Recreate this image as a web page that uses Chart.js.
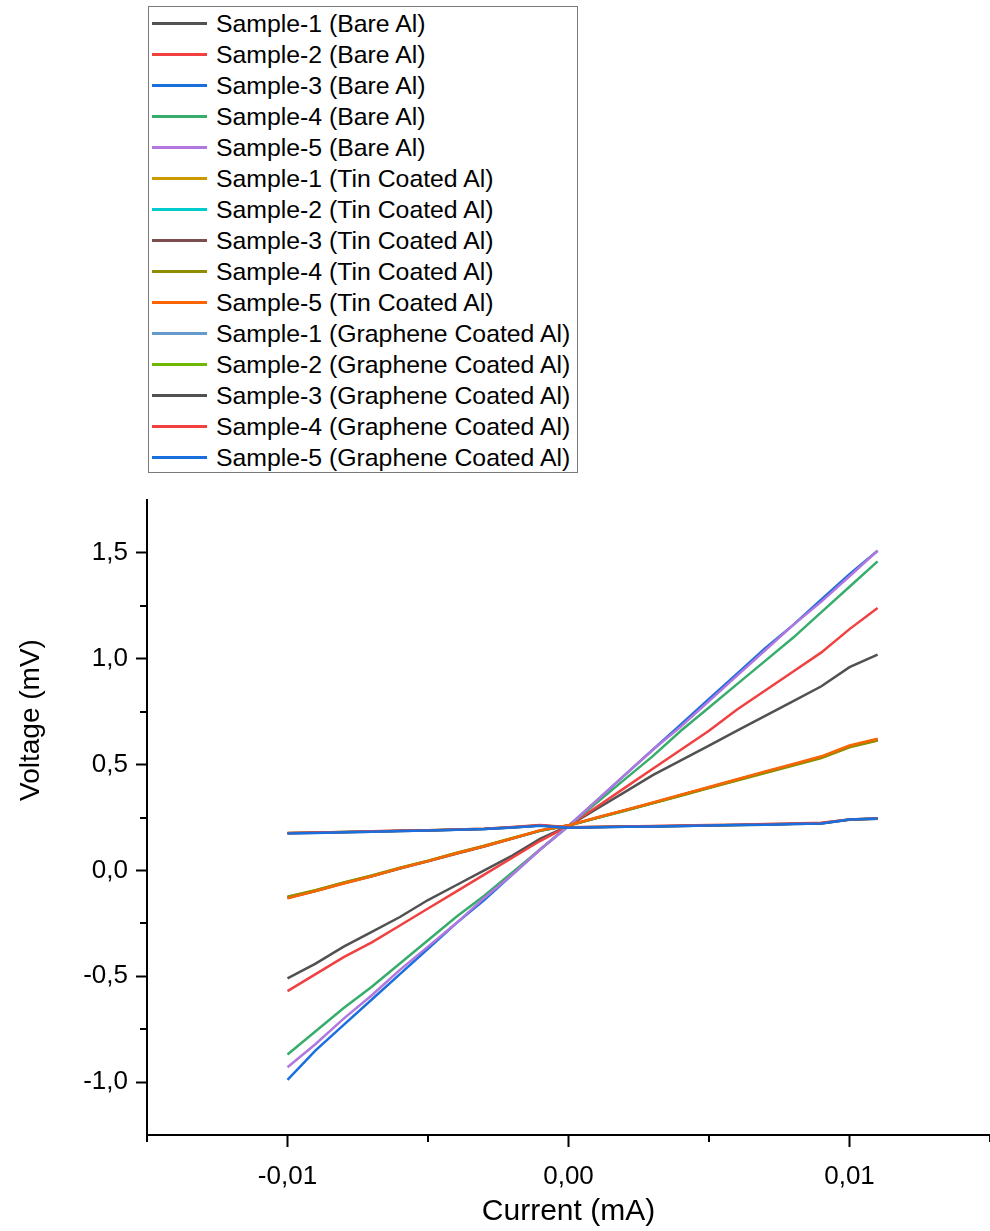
<!DOCTYPE html>
<html>
<head>
<meta charset="utf-8">
<script src="https://cdn.jsdelivr.net/npm/chart.js@4.4.0/dist/chart.umd.min.js"></script>
<style>
  body { margin: 0; background: #fff; }
  #wrap { position: relative; width: 990px; height: 1231px; }
  #legend {
    position: absolute; left: 148px; top: 6px; width: 430px; height: 467px;
    box-sizing: border-box; border: 1px solid #7a7a7a; background: #fff;
    font-family: 'Liberation Sans', Arial, sans-serif; font-size: 24.8px; color: #000;
    padding-top: 1px;
  }
  .row { display: flex; align-items: center; height: 31px; white-space: nowrap; }
  .swatch { display: inline-block; width: 55px; height: 3px; margin-left: 3px; }
  .label { margin-left: 9px; }
</style>
</head>
<body>
<div id="wrap">
  <canvas id="ivChart"></canvas>
  <div id="legend"></div>
</div>
<script>
// current (mA)
const current = [-0.010, -0.009, -0.008, -0.007, -0.006, -0.005, -0.004, -0.003, -0.002, -0.001, 0.000,
                 0.001, 0.002, 0.003, 0.004, 0.005, 0.006, 0.007, 0.008, 0.009, 0.010, 0.011];

// voltage (mV) - bare Al
const bare1 = [-0.51, -0.44, -0.36, -0.29, -0.22, -0.14, -0.07, 0.00, 0.07, 0.15, 0.21, 0.29, 0.37, 0.45, 0.52, 0.59, 0.66, 0.73, 0.80, 0.87, 0.96, 1.02];
const bare2 = [-0.57, -0.49, -0.41, -0.34, -0.26, -0.18, -0.10, -0.02, 0.06, 0.14, 0.21, 0.30, 0.39, 0.48, 0.57, 0.66, 0.76, 0.85, 0.94, 1.03, 1.14, 1.24];
const bare3 = [-0.99, -0.85, -0.73, -0.61, -0.49, -0.37, -0.25, -0.14, -0.02, 0.10, 0.21, 0.33, 0.45, 0.57, 0.69, 0.81, 0.93, 1.05, 1.16, 1.28, 1.40, 1.51];
const bare4 = [-0.87, -0.76, -0.65, -0.55, -0.44, -0.33, -0.22, -0.12, -0.01, 0.10, 0.21, 0.32, 0.43, 0.54, 0.66, 0.77, 0.88, 0.99, 1.10, 1.22, 1.34, 1.46];
const bare5 = [-0.93, -0.82, -0.70, -0.59, -0.47, -0.36, -0.25, -0.13, -0.02, 0.10, 0.21, 0.33, 0.45, 0.57, 0.68, 0.80, 0.92, 1.04, 1.16, 1.27, 1.39, 1.51];

// tin coated Al
const tin1 = [-0.125, -0.094, -0.058, -0.025, 0.012, 0.045, 0.082, 0.116, 0.152, 0.188, 0.212, 0.248, 0.283, 0.318, 0.355, 0.391, 0.428, 0.463, 0.498, 0.534, 0.584, 0.616];
const tin2 = [-0.128, -0.096, -0.060, -0.027, 0.010, 0.044, 0.080, 0.114, 0.150, 0.187, 0.211, 0.247, 0.282, 0.318, 0.355, 0.392, 0.429, 0.465, 0.500, 0.536, 0.587, 0.619];
const tin3 = [-0.130, -0.098, -0.061, -0.028, 0.009, 0.043, 0.079, 0.113, 0.150, 0.188, 0.213, 0.249, 0.284, 0.319, 0.356, 0.392, 0.428, 0.464, 0.499, 0.533, 0.585, 0.616];
const tin4 = [-0.124, -0.093, -0.057, -0.024, 0.013, 0.046, 0.083, 0.117, 0.153, 0.189, 0.212, 0.247, 0.282, 0.317, 0.353, 0.389, 0.425, 0.460, 0.495, 0.531, 0.582, 0.614];
const tin5 = [-0.132, -0.098, -0.062, -0.028, 0.010, 0.044, 0.080, 0.114, 0.151, 0.190, 0.213, 0.250, 0.285, 0.321, 0.358, 0.394, 0.431, 0.468, 0.503, 0.539, 0.590, 0.622];

// graphene coated Al
const gr1 = [0.176, 0.178, 0.181, 0.184, 0.186, 0.189, 0.192, 0.196, 0.203, 0.212, 0.203, 0.205, 0.207, 0.208, 0.210, 0.212, 0.214, 0.217, 0.220, 0.223, 0.240, 0.244];
const gr2 = [0.177, 0.179, 0.181, 0.184, 0.187, 0.190, 0.193, 0.197, 0.204, 0.213, 0.203, 0.205, 0.207, 0.209, 0.211, 0.213, 0.215, 0.218, 0.221, 0.224, 0.241, 0.245];
const gr3 = [0.176, 0.178, 0.180, 0.183, 0.186, 0.189, 0.192, 0.196, 0.203, 0.212, 0.202, 0.204, 0.206, 0.208, 0.210, 0.212, 0.214, 0.216, 0.219, 0.222, 0.239, 0.244];
const gr4 = [0.177, 0.179, 0.182, 0.185, 0.188, 0.190, 0.193, 0.197, 0.205, 0.215, 0.204, 0.206, 0.208, 0.210, 0.212, 0.214, 0.216, 0.219, 0.222, 0.225, 0.241, 0.246];
const gr5 = [0.175, 0.177, 0.180, 0.183, 0.186, 0.189, 0.192, 0.196, 0.203, 0.211, 0.202, 0.204, 0.206, 0.208, 0.210, 0.212, 0.214, 0.216, 0.219, 0.222, 0.240, 0.245];

const seriesNames = [
    'Sample-1 (Bare Al)', 'Sample-2 (Bare Al)', 'Sample-3 (Bare Al)', 'Sample-4 (Bare Al)', 'Sample-5 (Bare Al)',
    'Sample-1 (Tin Coated Al)', 'Sample-2 (Tin Coated Al)', 'Sample-3 (Tin Coated Al)', 'Sample-4 (Tin Coated Al)', 'Sample-5 (Tin Coated Al)',
    'Sample-1 (Graphene Coated Al)', 'Sample-2 (Graphene Coated Al)', 'Sample-3 (Graphene Coated Al)', 'Sample-4 (Graphene Coated Al)', 'Sample-5 (Graphene Coated Al)'
];
const seriesValues = [bare1, bare2, bare3, bare4, bare5, tin1, tin2, tin3, tin4, tin5, gr1, gr2, gr3, gr4, gr5];
const seriesColors = ['#515151', '#F14040', '#1A6FDF', '#37AD6B', '#B177DE',
                      '#CC9900', '#00CBCC', '#7D4E4E', '#8E8E00', '#FB6501',
                      '#6699CC', '#6FB802', '#515151', '#F14040', '#1A6FDF'];

// axis ticks
const xMajor = [-0.01, 0.00, 0.01];
const xMinor = [-0.015, -0.005, 0.005, 0.015];
const yMajor = [-1.0, -0.5, 0.0, 0.5, 1.0, 1.5];
const yMinor = [-0.75, -0.25, 0.25, 0.75, 1.25];

const FONT = "'Liberation Sans', Arial, sans-serif";

function comma(v, d) {
    if (Math.abs(v) < 1e-9) v = 0;
    return v.toFixed(d).replace('.', ',');
}

// short ticks between the labelled ones
const minorTicks = {
    id: 'minorTicks',
    afterDraw(chart) {
        const ctx = chart.ctx;
        const xs = chart.scales.x, ys = chart.scales.y;
        const area = chart.chartArea;
        ctx.save();
        ctx.strokeStyle = '#000';
        ctx.lineWidth = 2;
        ctx.beginPath();
        xMinor.forEach(v => {
            const px = Math.round(xs.getPixelForValue(v));
            ctx.moveTo(px, area.bottom);
            ctx.lineTo(px, area.bottom + 7);
        });
        yMinor.forEach(v => {
            const py = Math.round(ys.getPixelForValue(v));
            ctx.moveTo(area.left, py);
            ctx.lineTo(area.left - 7, py);
        });
        ctx.stroke();
        ctx.restore();
    }
};

// y axis title sits higher than the axis centre in the original
const yTitle = {
    id: 'yTitle',
    afterDraw(chart) {
        const ctx = chart.ctx;
        ctx.save();
        ctx.translate(31, 720);
        ctx.rotate(-Math.PI / 2);
        ctx.font = '28px ' + FONT;
        ctx.fillStyle = '#000';
        ctx.textAlign = 'center';
        ctx.textBaseline = 'middle';
        ctx.fillText('Voltage (mV)', 0, 0);
        ctx.restore();
    }
};

const datasets = seriesValues.map((vals, i) => ({
    label: seriesNames[i],
    data: current.map((c, j) => ({ x: c, y: vals[j] })),
    borderColor: seriesColors[i],
    backgroundColor: seriesColors[i],
    borderWidth: 2.5,
    pointRadius: 0,
    tension: 0,
    fill: false,
    order: -i
}));

const ctx = document.getElementById('ivChart').getContext('2d');
const ivChart = new Chart(ctx, {
    type: 'line',
    data: { datasets: datasets },
    options: {
        responsive: true,
        maintainAspectRatio: false,
        animation: false,
        layout: { padding: { top: 500, right: 0, left: 0, bottom: 0 } },
        plugins: {
            legend: { display: false },
            tooltip: { enabled: false }
        },
        scales: {
            x: {
                type: 'linear',
                min: -0.015,
                max: 0.015,
                afterFit: function(scale) { scale.height = 96; },
                afterBuildTicks: function(scale) { scale.ticks = xMajor.map(v => ({ value: v })); },
                grid: { drawOnChartArea: false, drawTicks: true, tickLength: 12, tickWidth: 2, tickColor: '#000' },
                border: { display: true, color: '#000', width: 2 },
                ticks: {
                    color: '#000',
                    padding: 14,
                    maxRotation: 0,
                    font: { family: FONT, size: 26 },
                    callback: function(v) { return comma(v, 2); }
                },
                title: {
                    display: true,
                    text: 'Current (mA)',
                    color: '#000',
                    font: { family: FONT, size: 30 },
                    padding: { top: 0, bottom: 1 }
                }
            },
            y: {
                type: 'linear',
                min: -1.25,
                max: 1.75,
                afterFit: function(scale) { scale.width = 147; },
                afterBuildTicks: function(scale) { scale.ticks = yMajor.map(v => ({ value: v })); },
                ticks: {
                    color: '#000',
                    padding: 8,
                    font: { family: FONT, size: 26 },
                    callback: function(v) { return comma(v, 1); }
                },
                grid: { drawOnChartArea: false, drawTicks: true, tickLength: 11, tickWidth: 2, tickColor: '#000' },
                border: { display: true, color: '#000', width: 2 },
                title: { display: false }
            }
        }
    },
    plugins: [minorTicks, yTitle]
});

// legend box built from the chart's own datasets
const legendBox = document.getElementById('legend');
ivChart.data.datasets.forEach(ds => {
    const row = document.createElement('div');
    row.className = 'row';
    const sw = document.createElement('span');
    sw.className = 'swatch';
    sw.style.background = ds.borderColor;
    const lb = document.createElement('span');
    lb.className = 'label';
    lb.textContent = ds.label;
    row.appendChild(sw);
    row.appendChild(lb);
    legendBox.appendChild(row);
});
</script>
</body>
</html>
